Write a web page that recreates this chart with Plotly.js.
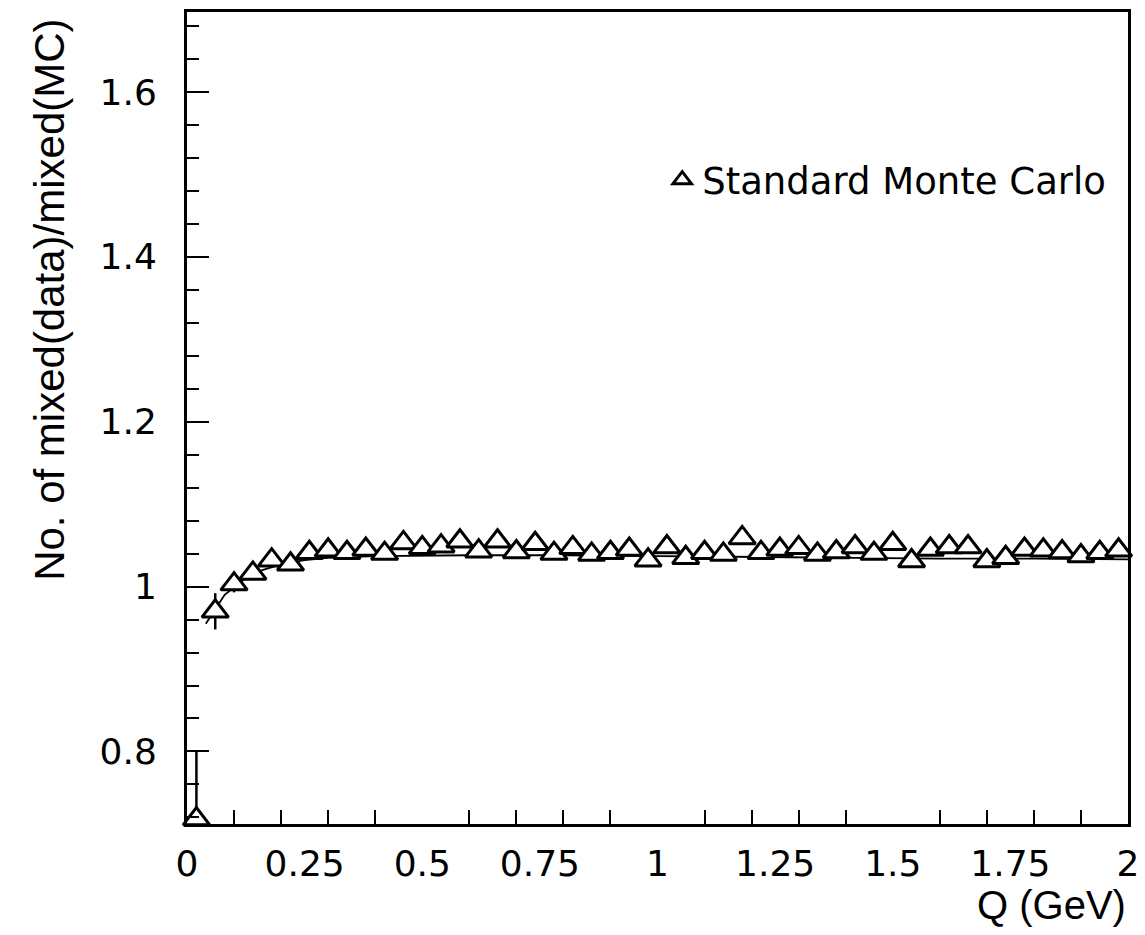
<!DOCTYPE html>
<html>
<head>
<meta charset="utf-8">
<script src="https://cdn.plot.ly/plotly-3.0.1.min.js"></script>
<style>html,body{margin:0;padding:0;background:#fff;}#chart{width:1145px;height:935px;}</style>
</head>
<body>
<div id="chart"></div>
<script>
var qValues = [0.02,0.06,0.10,0.14,0.18,0.22,0.26,0.30,0.34,0.38,
               0.42,0.46,0.50,0.54,0.58,0.62,0.66,0.70,0.74,0.78,
               0.82,0.86,0.90,0.94,0.98,1.02,1.06,1.10,1.14,1.18,
               1.22,1.26,1.30,1.34,1.38,1.42,1.46,1.50,1.54,1.58,
               1.62,1.66,1.70,1.74,1.78,1.82,1.86,1.90,1.94,1.98];
var ratioValues = [0.718,0.970,1.003,1.016,1.032,1.027,1.041,1.044,1.041,1.045,
                   1.040,1.053,1.047,1.049,1.055,1.043,1.055,1.042,1.052,1.040,
                   1.047,1.039,1.041,1.045,1.032,1.048,1.035,1.041,1.039,1.059,
                   1.041,1.045,1.047,1.039,1.042,1.048,1.040,1.052,1.031,1.045,
                   1.048,1.048,1.031,1.035,1.045,1.044,1.042,1.037,1.041,1.044];
var ratioErrors = [0.082,0.022,0.010,0.008,0.007,0.007,0.006,0.006,0.006,0.006,
                   0.006,0.006,0.006,0.006,0.006,0.006,0.006,0.006,0.006,0.006,
                   0.006,0.006,0.006,0.006,0.006,0.006,0.006,0.006,0.006,0.006,
                   0.006,0.006,0.006,0.006,0.006,0.006,0.006,0.006,0.006,0.006,
                   0.006,0.006,0.006,0.006,0.006,0.006,0.006,0.006,0.006,0.006];
var fitQ = [0.04,0.08,0.12,0.16,0.20,0.25,0.30,0.40,0.60,0.80,1.00,1.20,1.40,1.60,1.80,2.00];
var fitValues = [0.955,0.990,1.008,1.020,1.027,1.032,1.035,1.037,1.038,1.038,1.037,1.036,1.035,1.034,1.034,1.033];
var seriesName = "Standard Monte Carlo";
var xTitle = "Q (GeV)";
var yTitle = "No. of mixed(data)/mixed(MC)";

var fitTrace = {
  x: fitQ, y: fitValues, type: "scatter", mode: "lines",
  line: {color: "#000", width: 1.8}, showlegend: false, hoverinfo: "skip"
};
var dataTrace = {
  x: qValues, y: ratioValues, type: "scatter", mode: "markers", name: seriesName,
  marker: {symbol: "triangle-up", size: 23, color: "#fff", line: {color: "#000", width: 3}},
  error_y: {type: "data", array: ratioErrors, visible: true, color: "#000", thickness: 2.5, width: 0},
  cliponaxis: false
};

var fontTick = "DejaVu Sans, sans-serif";
var fontTitle = "Liberation Sans, Arial, sans-serif";
var layout = {
  width: 1145, height: 935,
  margin: {l: 187, r: 17, t: 12, b: 111},
  paper_bgcolor: "#fff", plot_bgcolor: "#fff",
  showlegend: true,
  legend: {x: 0.505, y: 0.793, xanchor: "left", yanchor: "middle",
           font: {family: "DejaVu Sans, sans-serif", size: 37, color: "#000"},
           bgcolor: "rgba(0,0,0,0)", borderwidth: 0},
  xaxis: {
    range: [0, 2], tickmode: "linear", tick0: 0, dtick: 0.25,
    ticks: "inside", ticklen: 0, tickwidth: 2, tickcolor: "#000",
    minor: {ticks: "inside", tick0: 0, dtick: 0.1, ticklen: 14, tickwidth: 2, tickcolor: "#000"},
    showline: true, linecolor: "#000", linewidth: 3, mirror: true,
    showgrid: false, zeroline: false,
    ticklabelstandoff: 6,
    tickfont: {family: fontTick, size: 36, color: "#000"}
  },
  yaxis: {
    range: [0.712, 1.697], tickmode: "linear", tick0: 0.8, dtick: 0.2,
    ticks: "inside", ticklen: 22, tickwidth: 2, tickcolor: "#000",
    minor: {ticks: "inside", tick0: 0.8, dtick: 0.04, ticklen: 12, tickwidth: 2, tickcolor: "#000"},
    showline: true, linecolor: "#000", linewidth: 3, mirror: true,
    showgrid: false, zeroline: false,
    ticklabelstandoff: 20,
    tickfont: {family: fontTick, size: 36, color: "#000"}
  },
  annotations: [
    {text: yTitle, xref: "paper", yref: "paper", x: -0.146, y: 0.645, textangle: -90,
     xanchor: "center", yanchor: "middle", showarrow: false,
     font: {family: fontTitle, size: 42, color: "#000"}},
    {text: xTitle, xref: "paper", yref: "paper", x: 1.0, y: -0.1, xanchor: "right", yanchor: "middle",
     showarrow: false, font: {family: fontTitle, size: 40, color: "#000"}}
  ]
};

Plotly.newPlot("chart", [fitTrace, dataTrace], layout, {staticPlot: true, displayModeBar: false});
</script>
</body>
</html>
